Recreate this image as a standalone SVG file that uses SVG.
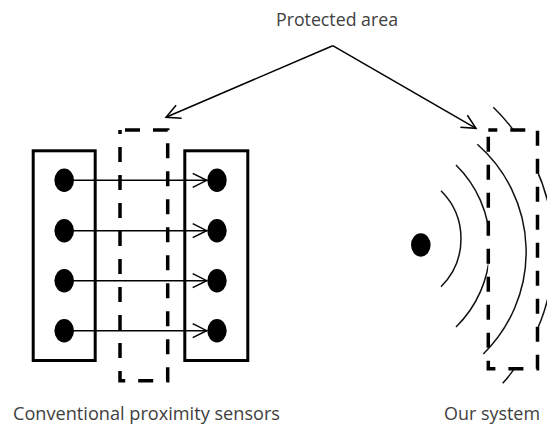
<svg xmlns="http://www.w3.org/2000/svg" width="547" height="428" viewBox="0 0 547 428">
<style>
.lbl{font-family:"Open Sans","Liberation Sans",Arial,sans-serif;font-size:18px;fill:#404040}
.box{fill:none;stroke:#000;stroke-width:3}
.dash{fill:#fff;stroke:#000;stroke-width:3.5;stroke-dasharray:15 13}
.dot{fill:#000}
.conn{fill:none;stroke:#000;stroke-width:1.5}
.wave{fill:none;stroke:#111;stroke-width:1.5}
</style>
<defs>
<marker id="ah" markerUnits="userSpaceOnUse" markerWidth="20" markerHeight="20" viewBox="-16 -10 20 20" refX="0" refY="0" orient="auto">
<path d="M -14 -7 L 0 0 L -14 7" fill="none" stroke="#000" stroke-width="1.5"/>
</marker>
</defs>
<rect width="547" height="428" fill="#fff"/>

<g id="label-protected"><text class="lbl" x="276" y="26" textLength="122" lengthAdjust="spacingAndGlyphs">Protected area</text></g>
<g id="label-conventional"><text class="lbl" x="13" y="420" textLength="267" lengthAdjust="spacingAndGlyphs">Conventional proximity sensors</text></g>
<g id="label-our"><text class="lbl" x="444" y="420" textLength="96" lengthAdjust="spacingAndGlyphs">Our system</text></g>

<g id="left-sensor-box">
<rect class="box" x="33.2" y="150.8" width="62" height="209.7"/>
<ellipse class="dot" cx="64.2" cy="180.3" rx="9.8" ry="11.7"/>
<ellipse class="dot" cx="64.2" cy="230.7" rx="9.8" ry="11.7"/>
<ellipse class="dot" cx="64.2" cy="280.7" rx="9.8" ry="11.7"/>
<ellipse class="dot" cx="64.2" cy="330.7" rx="9.8" ry="11.7"/>
</g>

<g id="right-sensor-box">
<rect class="box" x="184.8" y="150.8" width="63" height="209.7"/>
<ellipse class="dot" cx="217" cy="180.3" rx="9.7" ry="11.7"/>
<ellipse class="dot" cx="217" cy="230.7" rx="9.7" ry="11.7"/>
<ellipse class="dot" cx="217" cy="280.7" rx="9.7" ry="11.7"/>
<ellipse class="dot" cx="217" cy="330.7" rx="9.7" ry="11.7"/>
</g>

<g id="our-system-sensor">
<ellipse class="dot" cx="420.8" cy="245" rx="9.8" ry="11.7"/>
<path class="wave" d="M 441 190.7 A 67.6 67.6 0 0 1 441 286.7"/>
<path class="wave" d="M 456 165 A 113.5 113.5 0 0 1 456 327"/>
<path class="wave" d="M 493.3 107.3 A 199 199 0 0 1 502.7 383.3"/>
</g>

<g id="protected-area-right">
<path class="dash" d="M 488.3 130 H 537.5 V 368.7 H 488.3 Z" stroke-dashoffset="6"/>
<path class="wave" d="M 477.3 144.3 A 143 143 0 0 1 483.3 354"/>
</g>

<g id="connectors">
<line class="conn" x1="64.2" y1="180.3" x2="206.7" y2="180.3" marker-end="url(#ah)"/>
<line class="conn" x1="64.2" y1="230.7" x2="206.7" y2="230.7" marker-end="url(#ah)"/>
<line class="conn" x1="64.2" y1="280.7" x2="206.7" y2="280.7" marker-end="url(#ah)"/>
<line class="conn" x1="64.2" y1="330.7" x2="206.7" y2="330.7" marker-end="url(#ah)"/>
<line class="conn" x1="332.7" y1="45.7" x2="166" y2="117.3" marker-end="url(#ah)"/>
<line class="conn" x1="332.7" y1="45.7" x2="476" y2="128.3" marker-end="url(#ah)"/>
</g>

<g id="protected-area-left">
<path class="dash" d="M 120 130 H 167.7 V 380.8 H 120 Z" style="fill:none" stroke-dashoffset="23"/>
</g>
</svg>
